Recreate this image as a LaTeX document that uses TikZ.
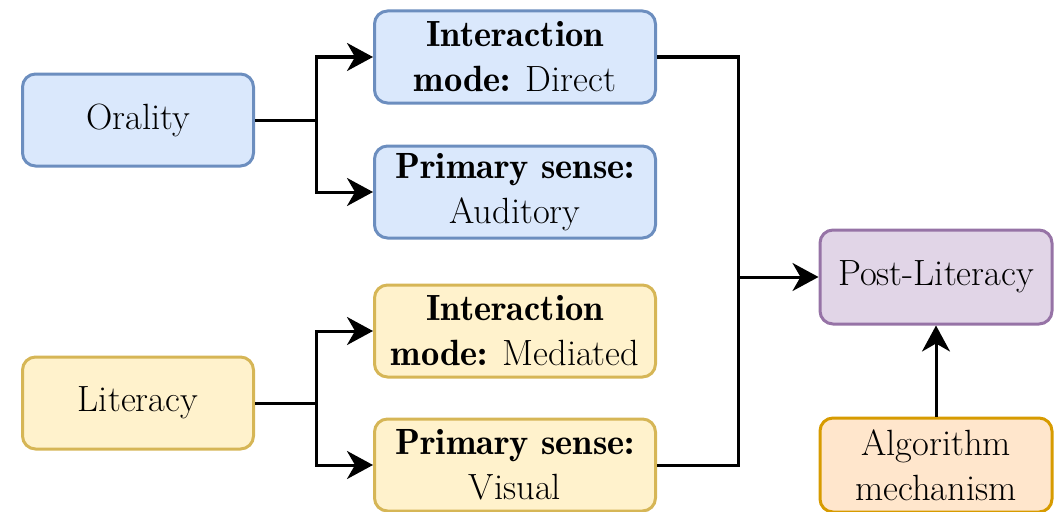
\documentclass[tikz,border=0pt]{standalone}
\usetikzlibrary{arrows.meta}
\definecolor{bluefill}{HTML}{DAE8FC}\definecolor{bluedraw}{HTML}{6C8EBF}
\definecolor{yelfill}{HTML}{FFF2CC}\definecolor{yeldraw}{HTML}{D6B656}
\definecolor{purfill}{HTML}{E1D5E7}\definecolor{purdraw}{HTML}{9673A6}
\definecolor{orafill}{HTML}{FFE6CC}\definecolor{oradraw}{HTML}{D79B00}
\tikzset{
  box/.style={rectangle, rounded corners=13pt, line width=3pt, align=center,
    font=\fontsize{36.5pt}{45pt}\selectfont, inner sep=0pt},
  leftbox/.style={box, minimum width=231pt, minimum height=92pt},
  midbox/.style={box, minimum width=281pt, minimum height=92pt},
  rightbox/.style={box, minimum width=232pt, minimum height=94pt},
  blue/.style={fill=bluefill, draw=bluedraw},
  yel/.style={fill=yelfill, draw=yeldraw},
  pur/.style={fill=purfill, draw=purdraw},
  ora/.style={fill=orafill, draw=oradraw},
  conn/.style={line width=3pt, -{Stealth[length=26pt,width=28pt,inset=8pt]}},
  plain/.style={line width=3pt}
}
\newcommand{\bb}[1]{{\fontseries{b}\selectfont #1}}
\begin{document}
\begin{tikzpicture}[x=1pt,y=1pt]
\useasboundingbox (0,0) rectangle (1056,-511);
\node[leftbox,blue] (oral) at (138,-120) {Orality};
\node[leftbox,yel] (lit) at (138,-403) {Literacy};
\node[midbox,blue] (direct) at (515,-57) {\bb{Interaction}\\\bb{mode:} Direct};
\node[midbox,blue] (aud) at (515,-192) {\bb{Primary sense:}\\Auditory};
\node[midbox,yel] (med) at (515,-331) {\bb{Interaction}\\\bb{mode:} Mediated};
\node[midbox,yel] (vis) at (515,-465) {\bb{Primary sense:}\\Visual};
\node[rightbox,pur] (post) at (936,-277) {Post-Literacy};
\node[rightbox,ora] (alg) at (936,-465) {Algorithm\\mechanism};
\coordinate (j1) at (316,-120);
\coordinate (j2) at (316,-403);
\coordinate (m) at (738,-277);
\draw[plain] (oral.east) -- (j1);
\draw[conn] (j1) |- (direct.west);
\draw[conn] (j1) |- (aud.west);
\draw[plain] (lit.east) -- (j2);
\draw[conn] (j2) |- (med.west);
\draw[conn] (j2) |- (vis.west);
\draw[plain] (direct.east) -| (m);
\draw[plain] (vis.east) -| (m);
\draw[conn] (m) -- (post.west);
\draw[conn] (alg.north) -- (post.south);
\end{tikzpicture}
\end{document}
